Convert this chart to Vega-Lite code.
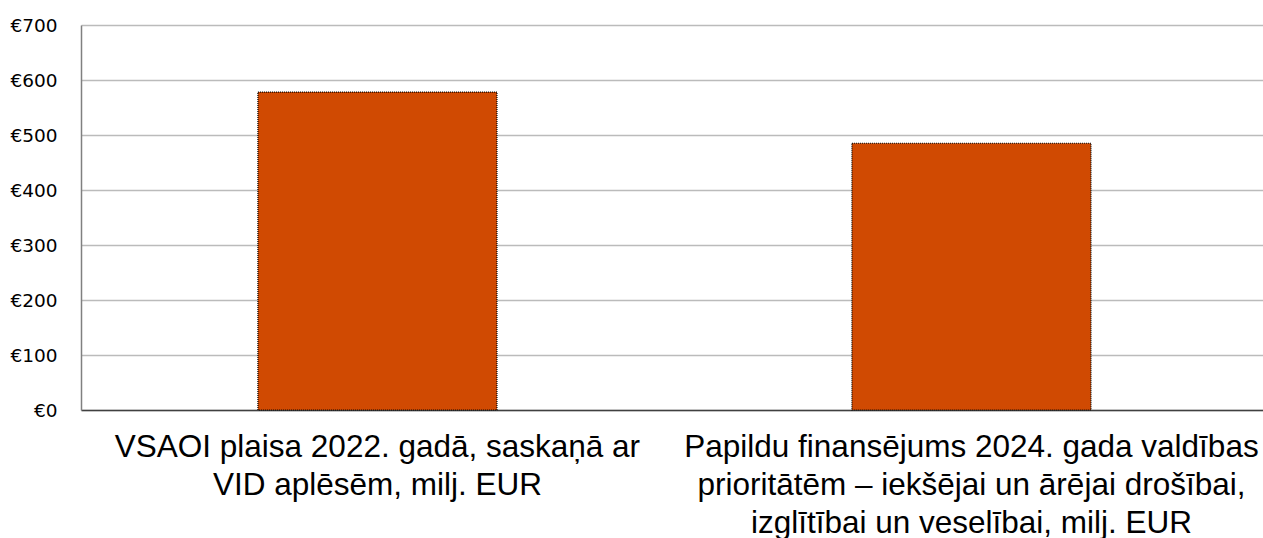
{
  "$schema": "https://vega.github.io/schema/vega-lite/v6.json",
  "autosize": {"type": "none"},
  "padding": {"left": 81, "top": 25, "right": 0, "bottom": 128},
  "width": 1182,
  "height": 385,
  "background": "white",
  "config": {"view": {"stroke": null}},
  "data": {
    "values": [
      {"category": "VSAOI plaisa 2022. gadā, saskaņā ar|VID aplēsēm, milj. EUR", "value": 578},
      {"category": "Papildu finansējums 2024. gada valdības|prioritātēm – iekšējai un ārējai drošībai,|izglītībai un veselībai, milj. EUR", "value": 485}
    ]
  },
  "mark": {"type": "bar", "color": "#D04A02", "stroke": "#000000", "strokeWidth": 1.2, "strokeDash": [1, 1]},
  "encoding": {
    "x": {
      "field": "category",
      "type": "nominal",
      "sort": null,
      "title": null,
      "scale": {"paddingInner": 0.5976, "paddingOuter": 0.2937, "align": 0.507},
      "axis": {
        "labelExpr": "split(datum.label, '|')",
        "labelAngle": 0,
        "labelAlign": "center",
        "labelBaseline": "top",
        "labelFont": "Liberation Sans",
        "labelFontSize": 31.5,
        "labelLineHeight": 38,
        "labelColor": "#000000",
        "labelPadding": 21,
        "labelLimit": 0,
        "ticks": false,
        "domainColor": "#404040",
        "domainWidth": 1.5
      }
    },
    "y": {
      "field": "value",
      "type": "quantitative",
      "title": null,
      "scale": {"domain": [0, 700], "nice": false},
      "axis": {
        "values": [0, 100, 200, 300, 400, 500, 600, 700],
        "labelExpr": "'€' + datum.value",
        "labelFont": "DejaVu Sans",
        "labelFontSize": 18.5,
        "labelColor": "#000000",
        "labelPadding": 24,
        "ticks": false,
        "grid": true,
        "gridColor": "#BBBBBB",
        "gridWidth": 1.3,
        "domainColor": "#808080",
        "domainWidth": 1.5
      }
    }
  }
}
